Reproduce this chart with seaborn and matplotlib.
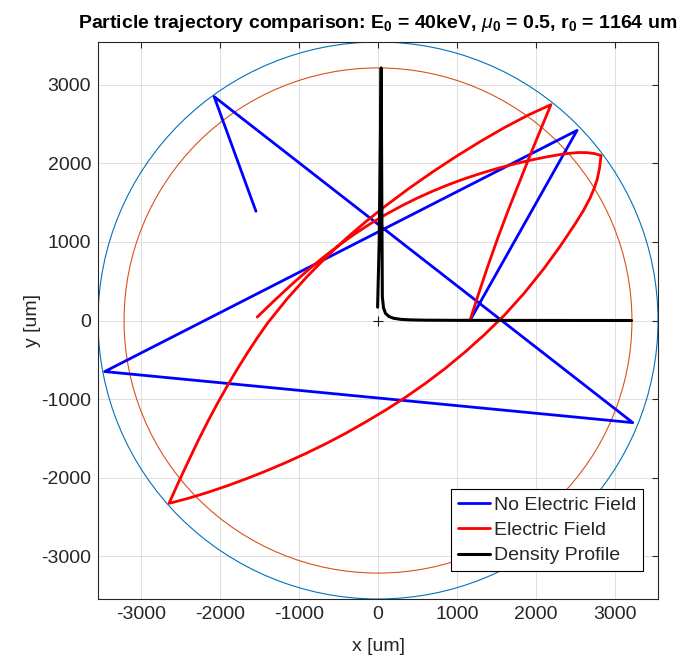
import numpy as np
import pandas as pd
import matplotlib
matplotlib.use("Agg")
import matplotlib.pyplot as plt
from matplotlib.patches import Circle
import seaborn as sns

sns.set_theme(style="white")
plt.rcParams['font.family'] = ['Liberation Sans', 'DejaVu Sans']
plt.rcParams['mathtext.fontset'] = 'custom'
plt.rcParams['mathtext.rm'] = 'Liberation Sans'
plt.rcParams['mathtext.it'] = 'Liberation Sans:italic'
plt.rcParams['mathtext.bf'] = 'Liberation Sans:bold'

# ---------------- data (um) ----------------
blue_x = [1164, 2520, -3460, 3225, -2075, -1545]
blue_y = [0, 2420, -650, -1300, 2850, 1390]

# electric-field trajectory: start -> wall -> wall -> wall -> end
red_x = [1164, 1270, 1390, 1520, 1655, 1790, 1920, 2055, 2189,
         1900, 1600, 1300, 1000, 700, 400, 100, -150, -400, -650, -900, -1150, -1400,
         -1525, -1650, -1775, -1900, -2025, -2150, -2275, -2400, -2523, -2646,
         -2400, -2150, -1900, -1650, -1400, -1150, -900, -650, -400, -150, 100, 350, 600,
         850, 1100, 1350, 1600, 1850, 2100, 2300, 2496, 2600, 2686, 2740, 2775, 2805, 2824,
         2740, 2640, 2540, 2440, 2300, 2100, 1900, 1700, 1500, 1300, 1100, 900, 700, 500,
         300, 100, -100, -300, -500, -700, -900, -1100, -1300, -1529]
red_y = [0, 330, 690, 1060, 1420, 1760, 2090, 2420, 2747,
         2614, 2455, 2281, 2095, 1897, 1687, 1462, 1262, 1047, 812, 557, 277, -36,
         -216, -407, -608, -819, -1041, -1276, -1525, -1789, -2053, -2328,
         -2263, -2186, -2101, -2008, -1908, -1801, -1686, -1563, -1431, -1288, -1138, -976, -801,
         -611, -403, -178, 67, 347, 660, 936, 1230, 1398, 1561, 1691, 1796, 1941, 2100,
         2125, 2137, 2138, 2130, 2112, 2076, 2034, 1986, 1932, 1872, 1806, 1732, 1650, 1560,
         1460, 1350, 1230, 1098, 954, 798, 630, 452, 266, 44]

dens_x = [-5, 15, 30, 40, 50, 55, 70, 95, 140, 200, 285, 400, 600, 1000, 2000, 3210]
dens_y = [170, 1000, 2300, 3215, 1200, 300, 160, 91, 50, 28, 15, 8, 4, 2, 1, 0]

origin_x = [0]
origin_y = [0]

outer_radius = 3545
inner_radius = 3215

ticks = [-3000, -2000, -1000, 0, 1000, 2000, 3000]
lim = 3545

title = (r'Particle trajectory comparison: E$_\mathbf{0}$ = 40keV, '
         r'$\mu_\mathbf{0}$ = 0.5, r$_\mathbf{0}$ = 1164 um')

# ---------------- figure ----------------
fig = plt.figure(figsize=(6.88, 6.64), dpi=100)
ax = fig.add_axes([98/688, 1-599/664, 560/688, 557/664])

ax.add_patch(Circle((0, 0), outer_radius, fill=False, ec='#0072BD', lw=0.8, zorder=1))
ax.add_patch(Circle((0, 0), inner_radius, fill=False, ec='#D95319', lw=0.8, zorder=1))

df_b = pd.DataFrame({'x': blue_x, 'y': blue_y})
df_r = pd.DataFrame({'x': red_x, 'y': red_y})
df_d = pd.DataFrame({'x': dens_x, 'y': dens_y})

sns.lineplot(data=df_b, x='x', y='y', sort=False, estimator=None, color='#0000FF',
             lw=2.0, label='No Electric Field', ax=ax, zorder=3)
sns.lineplot(data=df_r, x='x', y='y', sort=False, estimator=None, color='#FF0000',
             lw=2.0, label='Electric Field', ax=ax, zorder=3)
sns.lineplot(data=df_d, x='x', y='y', sort=False, estimator=None, color='#000000',
             lw=2.2, label='Density Profile', ax=ax, zorder=4)
for ln in ax.lines:
    ln.set_solid_joinstyle('round')
ax.plot(origin_x, origin_y, marker='+', color='k', ms=7, mew=0.8, ls='none', zorder=5)

ax.set_xlim(-lim, lim)
ax.set_ylim(-lim, lim)
ax.set_xticks(ticks)
ax.set_yticks(ticks)
ax.set_xticklabels([str(t) for t in ticks])
ax.set_yticklabels([str(t) for t in ticks])
ax.grid(True, color='#dedede', lw=0.7)
ax.set_axisbelow(True)
ax.tick_params(direction='in', length=4, width=0.8, top=True, right=True,
               labelsize=14, colors='#262626', pad=5)
for s in ax.spines.values():
    s.set_color('#262626')
    s.set_linewidth(0.8)

ax.set_xlabel('x [um]', fontsize=14, color='#262626', labelpad=11)
ax.set_ylabel('y [um]', fontsize=14, color='#262626', labelpad=0)
ax.set_title(title, fontsize=14, fontweight='bold', color='black', pad=10)

leg = ax.legend(loc='lower right', bbox_to_anchor=(0.973, 0.050), borderaxespad=0,
                fontsize=14, frameon=True, fancybox=False, framealpha=1,
                edgecolor='black', handlelength=1.65, handletextpad=0.2,
                labelspacing=0.4, borderpad=0.35)
leg.get_frame().set_linewidth(0.8)

fig.savefig('out.png', dpi=100)
